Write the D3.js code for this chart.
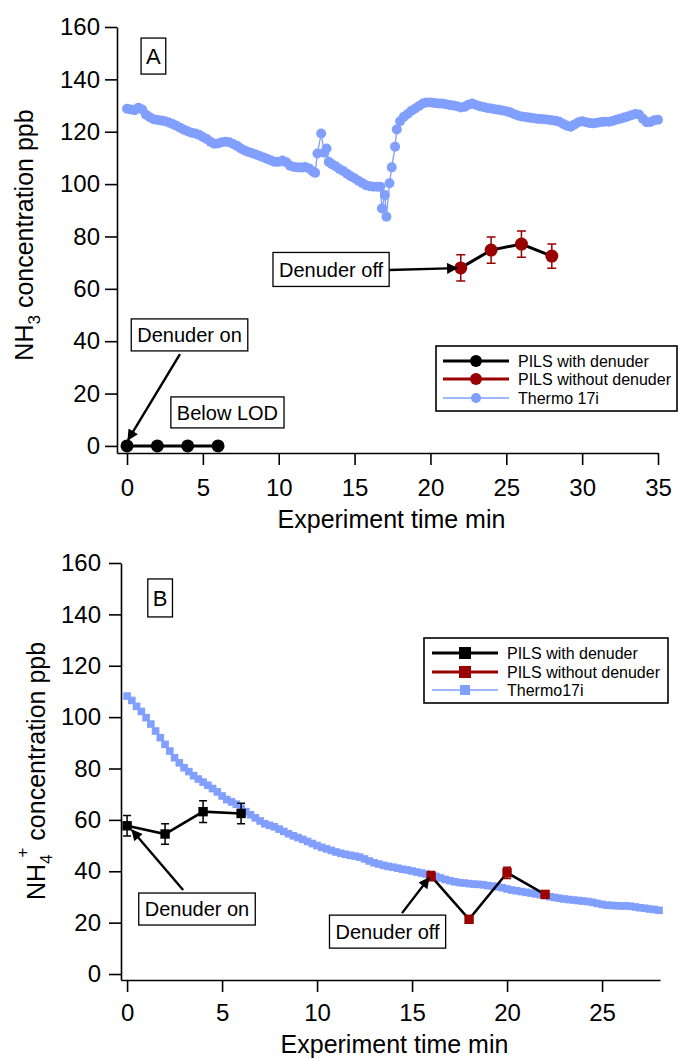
<!DOCTYPE html>
<html>
<head>
<meta charset="utf-8">
<script src="https://cdn.jsdelivr.net/npm/d3@7"></script>
<style>
  body { margin: 0; background: #fff; }
  text { font-family: "Liberation Sans", Arial, sans-serif; fill: #000; }
</style>
</head>
<body>
<svg id="chart" width="678" height="1059"></svg>
<script>
// ---- data: panel A (NH3) ----
const thermoA = [
  [0,128.8],[0.25,128.5],[0.5,128.2],[0.75,129.2],[1,128.5],[1.25,126.5],[1.5,125.5],[1.75,124.8],
  [2,124.5],[2.25,124.3],[2.5,124.0],[2.75,123.5],[3,123.0],[3.25,122.3],[3.5,121.5],[3.75,120.8],
  [4,120.2],[4.25,119.6],[4.5,119.3],[4.75,118.8],[5,118.0],[5.25,117.2],[5.5,116.2],[5.75,115.4],
  [6,115.5],[6.25,116.0],[6.5,116.2],[6.75,116.0],[7,115.3],[7.25,114.6],[7.5,113.6],[7.75,112.8],
  [8,112.3],[8.25,111.8],[8.5,111.3],[8.75,110.7],[9,110.2],[9.25,109.6],[9.5,109.0],[9.75,108.5],
  [10,108.5],[10.25,109.0],[10.5,108.3],[10.75,107.0],[11,106.5],[11.25,106.4],[11.5,106.3],[11.75,106.5],
  [12,106.0],[12.25,104.8],[12.4,104.3],[12.55,111.7],[12.8,119.3],[13.0,112.0],[13.15,113.6],[13.3,108.5],
  [13.5,107.6],[13.75,106.8],[14,105.8],[14.25,105.0],[14.5,104.0],[14.75,103.0],[15,102.2],[15.25,101.3],
  [15.5,100.4],[15.75,99.6],[16,99.2],[16.25,99.0],[16.5,99.0],[16.7,99.0],[16.8,90.7],[17.0,95.8],
  [17.1,87.5],[17.3,100.3],[17.45,106.4],[17.67,114.3],[17.78,120.9],[18,124.0],[18.25,125.7],[18.5,126.8],
  [18.75,128.0],[19,128.9],[19.25,129.8],[19.5,130.8],[19.75,131.2],[20,131.2],[20.25,131.0],[20.5,130.8],
  [20.75,130.8],[21,130.5],[21.25,130.2],[21.5,130.0],[21.75,129.7],[22,129.3],[22.25,129.5],[22.5,130.3],
  [22.75,130.8],[23,130.2],[23.25,129.7],[23.5,129.4],[23.75,129.1],[24,128.9],[24.25,128.6],[24.5,128.4],
  [24.75,128.1],[25,127.8],[25.25,127.4],[25.5,126.8],[25.75,126.2],[26,125.8],[26.25,125.6],[26.5,125.4],
  [26.75,125.2],[27,125.0],[27.25,124.9],[27.5,124.8],[27.75,124.6],[28,124.4],[28.25,124.2],[28.5,123.8],
  [28.75,123.0],[29,122.3],[29.25,121.9],[29.5,122.8],[29.75,123.6],[30,124.0],[30.25,123.6],[30.5,123.3],
  [30.75,123.2],[31,123.4],[31.25,123.7],[31.5,123.8],[31.75,123.8],[32,124.1],[32.25,124.6],[32.5,125.0],
  [32.75,125.4],[33,125.8],[33.25,126.3],[33.5,126.8],[33.75,126.6],[34,125.0],[34.25,123.6],[34.5,123.7],
  [34.75,124.4],[35,124.6]
];
const pilsOnA_t = [0, 2, 4, 6];
const pilsOnA_v = [0, 0, 0, 0];
const pilsOffA_t = [22, 24, 26, 28];
const pilsOffA_v = [68.0, 74.8, 77.1, 72.5];
const pilsOffA_err = [5.0, 5.0, 5.0, 4.6];

// ---- data: panel B (NH4+) ----
const thermoB = [
  [0,108.2],[0.25,106.5],[0.5,104.2],[0.75,102.2],[1,99.8],[1.25,97.3],[1.5,94.6],[1.75,92.0],
  [2,89.4],[2.25,86.8],[2.5,84.2],[2.75,82.2],[3,80.3],[3.25,78.8],[3.5,77.2],[3.75,75.9],
  [4,74.7],[4.25,73.5],[4.5,72.2],[4.75,70.9],[5,69.3],[5.25,67.9],[5.5,67.0],[5.75,66.1],
  [6,64.6],[6.25,63.2],[6.5,62.0],[6.75,60.8],[7,59.6],[7.25,58.5],[7.5,57.9],[7.75,57.3],
  [8,56.4],[8.25,55.5],[8.5,54.6],[8.75,53.8],[9,53.1],[9.25,52.4],[9.5,51.6],[9.75,50.8],
  [10,50.0],[10.25,49.3],[10.5,48.7],[10.75,48.1],[11,47.5],[11.25,47.0],[11.5,46.6],[11.75,46.2],
  [12,45.9],[12.25,45.5],[12.5,44.8],[12.75,44.0],[13,43.3],[13.25,42.8],[13.5,42.3],[13.75,41.9],
  [14,41.6],[14.25,41.2],[14.5,40.8],[14.75,40.5],[15,40.1],[15.25,39.7],[15.5,39.3],[15.75,38.9],
  [16,38.6],[16.25,38.0],[16.5,37.4],[16.75,36.8],[17,36.3],[17.25,35.9],[17.5,35.6],[17.75,35.4],
  [18,35.2],[18.25,35.0],[18.5,34.9],[18.75,34.7],[19,34.4],[19.25,34.2],[19.5,34.0],[19.75,33.6],
  [20,33.1],[20.25,32.7],[20.5,32.4],[20.75,32.1],[21,31.8],[21.25,31.5],[21.5,31.2],[21.75,30.9],
  [22,30.5],[22.25,30.1],[22.5,29.8],[22.75,29.5],[23,29.2],[23.25,29.0],[23.5,28.8],[23.75,28.6],
  [24,28.4],[24.25,28.2],[24.5,27.9],[24.75,27.5],[25,27.1],[25.25,26.8],[25.5,26.7],[25.75,26.6],
  [26,26.5],[26.25,26.5],[26.5,26.4],[26.75,26.1],[27,25.8],[27.25,25.6],[27.5,25.3],[27.75,25.1],
  [28,24.8]
];
const pilsOnB_t = [0, 2, 4, 6];
const pilsOnB_v = [57.7, 54.5, 63.2, 62.5];
const pilsOnB_err = [4.0, 4.0, 4.2, 4.0];
const pilsOffB_t = [16, 18, 20, 22];
const pilsOffB_v = [38.1, 21.3, 39.4, 31.0];
const pilsOffB_err = [1.8, 0.8, 2.2, 1.0];

// ---- tick labels ----
const yTicks = [0, 20, 40, 60, 80, 100, 120, 140, 160];
const xTicksA = [0, 5, 10, 15, 20, 25, 30, 35];
const xTicksB = [0, 5, 10, 15, 20, 25];
const legendA = ['PILS with denuder', 'PILS without denuder', 'Thermo 17i'];
const legendB = ['PILS with denuder', 'PILS without denuder', 'Thermo17i'];

const blue = '#809fff';
const red = '#990000';
const svg = d3.select('#chart');

svg.append('defs').append('marker')
  .attr('id', 'arrow')
  .attr('viewBox', '0 0 10 10')
  .attr('refX', 9).attr('refY', 5)
  .attr('markerWidth', 14).attr('markerHeight', 11)
  .attr('markerUnits', 'userSpaceOnUse')
  .attr('orient', 'auto')
  .append('path').attr('d', 'M0,0L10,5L0,10z').attr('fill', '#000');

function zip(t, v, e) { return t.map((d, i) => ({ t: d, v: v[i], e: e ? e[i] : 0 })); }

function drawPanel(cfg) {
  const g = svg.append('g');
  const x = d3.scaleLinear().domain(cfg.xDomain).range(cfg.xRange);
  const y = d3.scaleLinear().domain(cfg.yDomain).range(cfg.yRange);

  const ax = g.append('g')
    .attr('transform', `translate(0,${cfg.yRange[0]})`)
    .call(d3.axisBottom(x).tickValues(cfg.xTicks).tickSize(12).tickSizeOuter(0).tickPadding(cfg.xPad));
  const ay = g.append('g')
    .attr('transform', `translate(${cfg.xRange[0]},0)`)
    .call(d3.axisLeft(y).tickValues(yTicks).tickSize(12).tickSizeOuter(0).tickPadding(cfg.yPad));
  [ax, ay].forEach(a => {
    a.attr('font-size', 24).attr('font-family', null);
    a.selectAll('path, line').attr('stroke', '#000').attr('stroke-width', 1.6);
    a.selectAll('text').attr('fill', '#000');
  });

  // axis titles
  g.append('text')
    .attr('x', d3.mean(cfg.xRange) + 4).attr('y', cfg.xTitleY)
    .attr('text-anchor', 'middle').attr('font-size', 25)
    .text('Experiment time min');
  const yt = g.append('text')
    .attr('transform', `translate(${cfg.yTitleX},${cfg.yTitleY}) rotate(-90)`)
    .attr('text-anchor', 'middle').attr('font-size', 25);
  yt.append('tspan').text('NH');
  yt.append('tspan').attr('font-size', 17).attr('dy', 7).text(cfg.sub);
  if (cfg.sup) {
    yt.append('tspan').attr('font-size', 17).attr('dx', -3).attr('dy', -24).text(cfg.sup);
    yt.append('tspan').attr('dy', 17).text(' concentration ppb');
  } else {
    yt.append('tspan').attr('dy', -7).text(' concentration ppb');
  }

  // Thermo 17i series
  const line = d3.line().x(d => x(d[0])).y(d => y(d[1]));
  g.append('path').datum(cfg.thermo)
    .attr('d', line).attr('fill', 'none').attr('stroke', blue).attr('stroke-width', 1.3);
  if (cfg.shape === 'circle') {
    g.selectAll('.th').data(cfg.thermo).join('circle')
      .attr('cx', d => x(d[0])).attr('cy', d => y(d[1])).attr('r', 5).attr('fill', blue);
  } else {
    g.selectAll('.th').data(cfg.thermo).join('rect')
      .attr('x', d => x(d[0]) - 3.8).attr('y', d => y(d[1]) - 3.8)
      .attr('width', 7.6).attr('height', 7.6).attr('fill', blue);
  }

  // PILS series
  const lp = d3.line().x(d => x(d.t)).y(d => y(d.v));
  cfg.pils.forEach(s => {
    g.append('path').datum(s.data)
      .attr('d', lp).attr('fill', 'none').attr('stroke', '#000').attr('stroke-width', cfg.lineW);
    s.data.filter(d => d.e > 0).forEach(d => {
      const ex = x(d.t), y0 = y(d.v - d.e), y1 = y(d.v + d.e), cw = cfg.capW / 2;
      g.append('path')
        .attr('d', `M${ex},${y0}V${y1}M${ex - cw},${y0}H${ex + cw}M${ex - cw},${y1}H${ex + cw}`)
        .attr('stroke', s.barColor).attr('stroke-width', 1.5).attr('fill', 'none');
    });
    if (cfg.shape === 'circle') {
      g.selectAll(null).data(s.data).join('circle')
        .attr('cx', d => x(d.t)).attr('cy', d => y(d.v)).attr('r', 6.5).attr('fill', s.color);
    } else {
      g.selectAll(null).data(s.data).join('rect')
        .attr('x', d => x(d.t) - 4.7).attr('y', d => y(d.v) - 4.7)
        .attr('width', 9.4).attr('height', 9.4).attr('fill', s.color);
    }
  });

  // annotations
  cfg.notes.forEach(n => {
    if (n.from) {
      g.append('line')
        .attr('x1', x(n.from[0])).attr('y1', y(n.from[1]))
        .attr('x2', x(n.to[0])).attr('y2', y(n.to[1]))
        .attr('stroke', '#000').attr('stroke-width', 2.4)
        .attr('marker-end', 'url(#arrow)');
    }
    const cx = x(n.at[0]), cy = y(n.at[1]);
    const t = g.append('text').attr('x', cx).attr('y', cy + n.size * 0.36)
      .attr('text-anchor', 'middle').attr('font-size', n.size).text(n.text);
    const w = t.node().getComputedTextLength() + 2 * n.padX;
    g.insert('rect', () => t.node())
      .attr('x', cx - w / 2).attr('y', cy - n.h / 2).attr('width', w).attr('height', n.h)
      .attr('fill', '#fff').attr('stroke', '#000').attr('stroke-width', 1.3);
  });

  // legend
  const L = cfg.legend;
  g.append('rect').attr('x', L.x).attr('y', L.y).attr('width', L.w).attr('height', L.h)
    .attr('fill', '#fff').attr('stroke', '#000').attr('stroke-width', 1.6);
  const styles = [
    { c: '#000', lw: 3, big: true },
    { c: red, lw: 3, big: true },
    { c: blue, lw: 1.5, big: false }
  ];
  L.labels.forEach((lab, i) => {
    const ry = L.rows[i], s = styles[i];
    g.append('line').attr('x1', L.x1).attr('x2', L.x2).attr('y1', ry).attr('y2', ry)
      .attr('stroke', s.c).attr('stroke-width', s.lw);
    const mx = (L.x1 + L.x2) / 2;
    if (cfg.shape === 'circle') {
      g.append('circle').attr('cx', mx).attr('cy', ry).attr('r', s.big ? 6 : 5).attr('fill', s.c);
    } else {
      const sz = s.big ? 12 : 10;
      g.append('rect').attr('x', mx - sz / 2).attr('y', ry - sz / 2).attr('width', sz).attr('height', sz).attr('fill', s.c);
    }
    g.append('text').attr('x', L.tx).attr('y', ry + 6).attr('font-size', 16).text(lab);
  });
}

drawPanel({
  xDomain: [-0.66, 35], xRange: [117, 658],
  yDomain: [-2.7, 160], yRange: [453, 27],
  xTicks: xTicksA, xPad: 14, yPad: 5,
  xTitleY: 528, yTitleX: 33, yTitleY: 235, sub: '3',
  thermo: thermoA, shape: 'circle', lineW: 3, capW: 9,
  pils: [
    { data: zip(pilsOnA_t, pilsOnA_v), color: '#000', barColor: '#000' },
    { data: zip(pilsOffA_t, pilsOffA_v, pilsOffA_err), color: red, barColor: red }
  ],
  notes: [
    { text: 'A', at: [1.74, 148.9], size: 22, padX: 5, h: 36 },
    { text: 'Denuder on', at: [4.12, 42.4], size: 20, padX: 6, h: 32, from: [3.49, 35.1], to: [0.07, 2.3] },
    { text: 'Below LOD', at: [6.62, 12.8], size: 20, padX: 6, h: 31 },
    { text: 'Denuder off', at: [13.45, 67.4], size: 20, padX: 6, h: 34, from: [17.27, 67.2], to: [21.75, 67.9] }
  ],
  legend: { x: 436, y: 346, w: 241, h: 65, rows: [361, 379, 398], x1: 443, x2: 509, tx: 518, labels: legendA }
});

drawPanel({
  xDomain: [-0.32, 28.05], xRange: [121, 660],
  yDomain: [-2.33, 160], yRange: [980, 563],
  xTicks: xTicksB, xPad: 12, yPad: 8,
  xTitleY: 1053, yTitleX: 45, yTitleY: 771, sub: '4', sup: '+',
  thermo: thermoB, shape: 'square', lineW: 2.6, capW: 8,
  pils: [
    { data: zip(pilsOnB_t, pilsOnB_v, pilsOnB_err), color: '#000', barColor: '#000' },
    { data: zip(pilsOffB_t, pilsOffB_v, pilsOffB_err), color: red, barColor: red }
  ],
  notes: [
    { text: 'B', at: [1.74, 146.4], size: 22, padX: 5, h: 38 },
    { text: 'Denuder on', at: [3.68, 25.3], size: 20, padX: 6, h: 32, from: [2.95, 32.7], to: [0.26, 56.0] },
    { text: 'Denuder off', at: [13.71, 16.5], size: 20, padX: 6, h: 33, from: [14.47, 23.7], to: [15.89, 37.4] }
  ],
  legend: { x: 424, y: 638, w: 244, h: 65, rows: [653, 672, 690], x1: 432, x2: 498, tx: 507, labels: legendB }
});
</script>
</body>
</html>
